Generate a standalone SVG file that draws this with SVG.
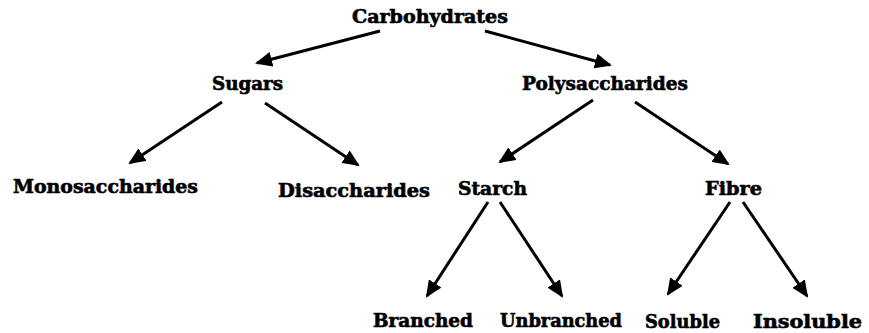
<svg xmlns="http://www.w3.org/2000/svg" width="869" height="333" viewBox="0 0 869 333">
<style>
text{font-family:"DejaVu Serif","Liberation Serif",serif;font-weight:bold;font-size:18px;fill:#000;stroke:#000;stroke-width:0.6;}
.c{stroke:#000;stroke-width:3;fill:none;marker-end:url(#ah);}
</style>
<defs>
<marker id="ah" markerUnits="userSpaceOnUse" markerWidth="17" markerHeight="15" viewBox="0 0 17 15" refX="15" refY="7.5" orient="auto">
<path d="M0,0 L17,7.5 L0,15 z" fill="#000"/>
</marker>
</defs>
<rect width="869" height="333" fill="#fff"/>
<g id="connectors">
<line class="c" x1="380" y1="31" x2="257" y2="63"/>
<line class="c" x1="485" y1="31" x2="610" y2="65"/>
<line class="c" x1="222" y1="102" x2="130" y2="163"/>
<line class="c" x1="265" y1="103" x2="358" y2="165"/>
<line class="c" x1="593" y1="100" x2="500" y2="162"/>
<line class="c" x1="635" y1="102" x2="728" y2="164"/>
<line class="c" x1="488" y1="202" x2="427" y2="296"/>
<line class="c" x1="500" y1="202" x2="562" y2="296"/>
<line class="c" x1="730" y1="202" x2="668" y2="294"/>
<line class="c" x1="743" y1="202" x2="807" y2="296"/>
</g>
<g id="carbohydrates"><text x="352" y="23" textLength="156" lengthAdjust="spacingAndGlyphs">Carbohydrates</text></g>
<g id="sugars"><text x="212" y="90" textLength="71" lengthAdjust="spacingAndGlyphs">Sugars</text></g>
<g id="polysaccharides"><text x="522" y="90" textLength="166" lengthAdjust="spacingAndGlyphs">Polysaccharides</text></g>
<g id="monosaccharides"><text x="13" y="193" textLength="185" lengthAdjust="spacingAndGlyphs">Monosaccharides</text></g>
<g id="disaccharides"><text x="278" y="197" textLength="152" lengthAdjust="spacingAndGlyphs">Disaccharides</text></g>
<g id="starch"><text x="458" y="195" textLength="69" lengthAdjust="spacingAndGlyphs">Starch</text></g>
<g id="fibre"><text x="705" y="195" textLength="57" lengthAdjust="spacingAndGlyphs">Fibre</text></g>
<g id="branched"><text x="373" y="327" textLength="100" lengthAdjust="spacingAndGlyphs">Branched</text></g>
<g id="unbranched"><text x="500" y="327" textLength="122" lengthAdjust="spacingAndGlyphs">Unbranched</text></g>
<g id="soluble"><text x="645" y="328" textLength="75" lengthAdjust="spacingAndGlyphs">Soluble</text></g>
<g id="insoluble"><text x="753" y="328" textLength="109" lengthAdjust="spacingAndGlyphs">Insoluble</text></g>
</svg>
